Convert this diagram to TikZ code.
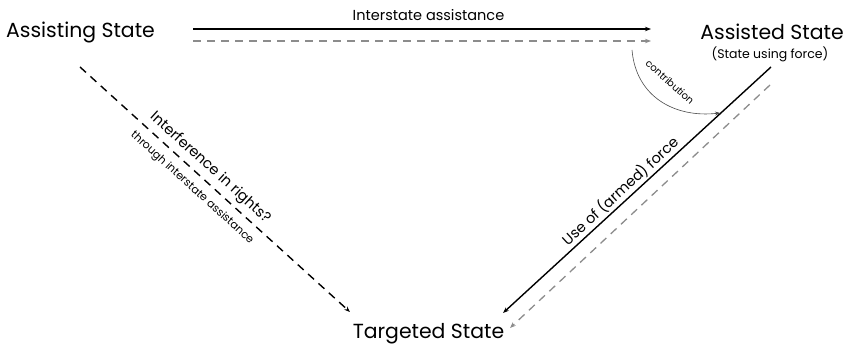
\documentclass[tikz,border=0pt]{standalone}
\usepackage{fontspec}
\setmainfont{Poppins}
\usetikzlibrary{arrows.meta}
\tikzset{
  state/.style={inner sep=0pt, anchor=base, font=\fontsize{20.4}{24}\selectfont},
  lbl/.style={inner sep=0pt, font=\fontsize{14.5}{17}\selectfont},
  small/.style={inner sep=0pt, font=\fontsize{11}{13}\selectfont},
  tip/.style={-{Stealth[length=6pt,width=4.5pt]}},
  solidarr/.style={tip, line width=1.4pt, black},
  grayarr/.style={tip, line width=1.3pt, black!45, dash pattern=on 8pt off 6pt},
  blackdash/.style={tip, line width=1.4pt, black, dash pattern=on 8pt off 6pt},
  contrib/.style={-{Stealth[length=5pt,width=4pt]}, line width=0.6pt, black!70}
}
\begin{document}
\begin{tikzpicture}[x=1pt,y=-1pt]
\useasboundingbox (0,0) rectangle (848,347);
% states
\node[state] (assisting) at (80.5,37.7) {Assisting State};
\node[state] (assisted) at (772,40) {Assisted State};
\node[small, anchor=base, font=\fontsize{12.5}{14}\selectfont] (using) at (770,59) {(State using force)};
\node[state] (targeted) at (428.5,338) {Targeted State};
% endpoints
\coordinate (h1s) at (193,29);
\coordinate (h1e) at (651,29);
\coordinate (h2s) at (193,41);
\coordinate (h2e) at (651,41);
\coordinate (d1s) at (771,67);
\coordinate (d1e) at (503,313);
\coordinate (d2s) at (770,85);
\coordinate (d2e) at (510,328);
\coordinate (l1s) at (80,67);
\coordinate (l1e) at (350,312);
\coordinate (cs) at (632,50);
\coordinate (ce) at (720,113);
% connectors
\draw[solidarr] (h1s) -- (h1e);
\draw[grayarr] (h2s) -- (h2e);
\draw[solidarr] (d1s) -- (d1e);
\draw[grayarr] (d2s) -- (d2e);
\draw[blackdash] (l1s) -- (l1e);
\draw[contrib] (cs) .. controls (636,97) and (675,118) .. (ce);
% labels
\node[lbl, anchor=base] (ia) at (428.5,20.5) {Interstate assistance};
\node[small, font=\fontsize{10}{12}\selectfont, rotate=-42] (contr) at (670,82) {contribution};
\node[lbl, rotate=-42.2] (inter) at (210,168) {Interference in rights?};
\node[small, rotate=-42.2] (through) at (192,188) {through interstate assistance};
\node[lbl, rotate=42.5] (use) at (620,191) {Use of (armed) force};
\end{tikzpicture}
\end{document}
